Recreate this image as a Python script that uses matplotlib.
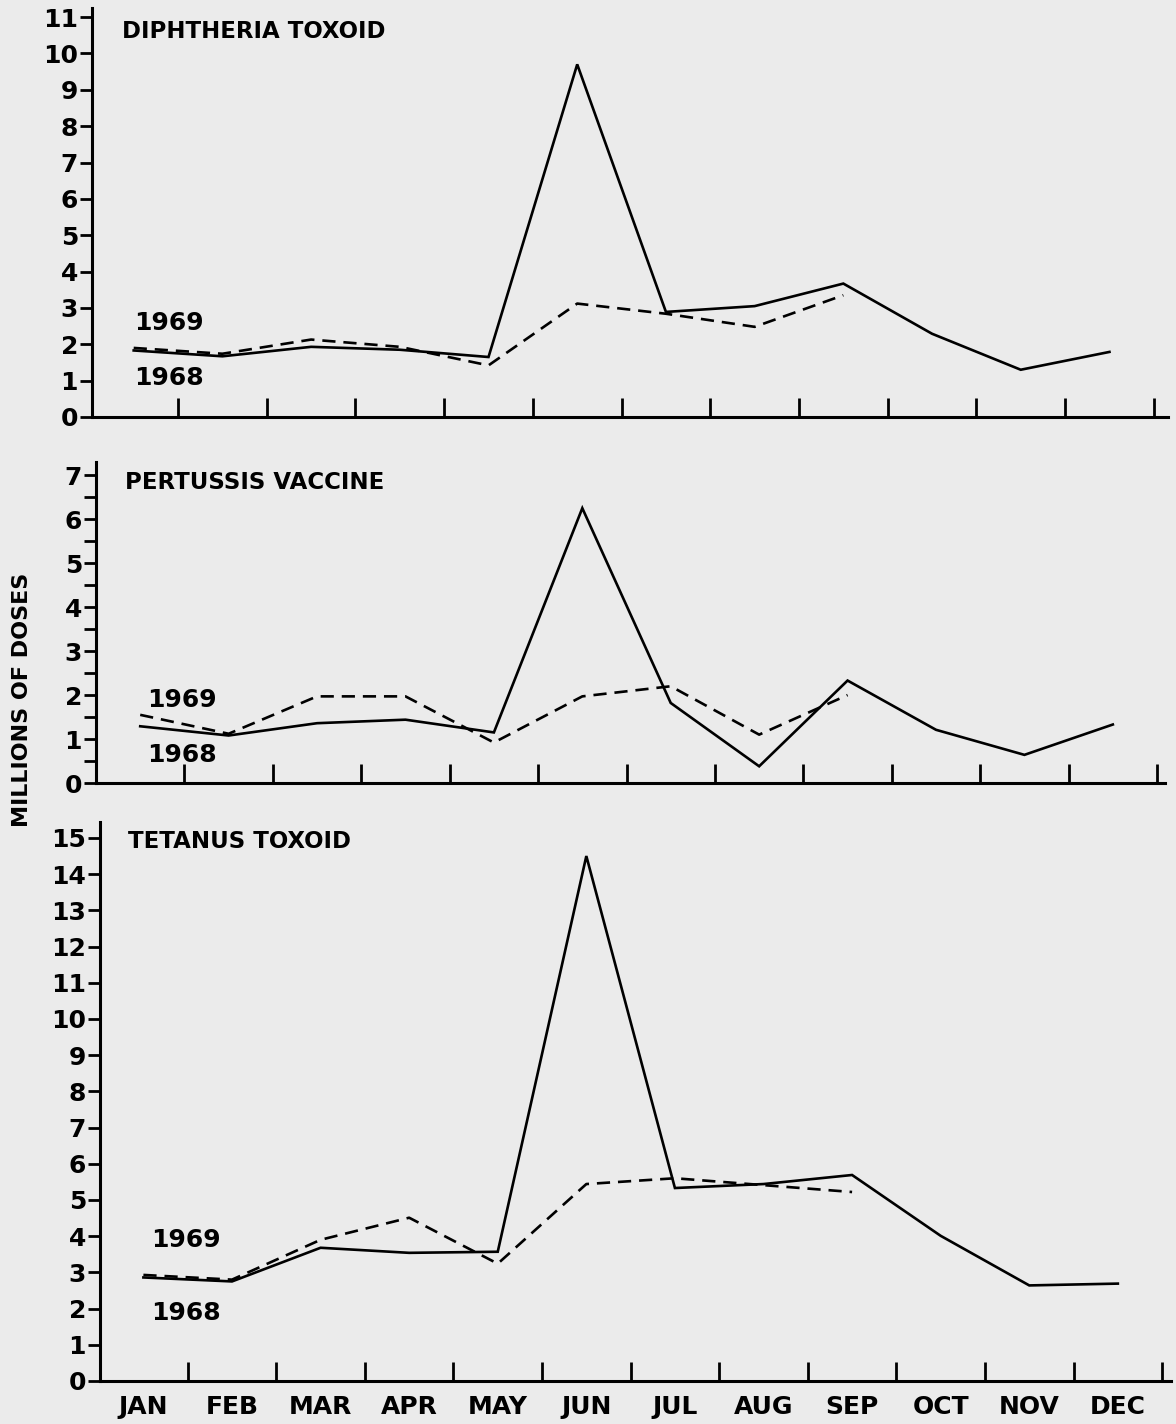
import numpy as np
import matplotlib.pyplot as plt

months = ["JAN", "FEB", "MAR", "APR", "MAY", "JUN", "JUL", "AUG", "SEP", "OCT", "NOV", "DEC"]

# millions of doses
diph_1968 = [1.83, 1.67, 1.93, 1.85, 1.65, 9.7, 2.89, 3.05, 3.67, 2.29, 1.30, 1.79]
diph_1969 = [1.9, 1.74, 2.13, 1.93, 1.42, 3.12, 2.84, 2.48, 3.35]
pert_1968 = [1.29, 1.08, 1.36, 1.44, 1.15, 6.25, 1.82, 0.38, 2.33, 1.21, 0.64, 1.33]
pert_1969 = [1.55, 1.12, 1.97, 1.97, 0.92, 1.97, 2.2, 1.1, 2.0]
tet_1968 = [2.86, 2.75, 3.68, 3.54, 3.57, 14.5, 5.33, 5.44, 5.69, 4.01, 2.64, 2.69]
tet_1969 = [2.93, 2.80, 3.90, 4.51, 3.24, 5.44, 5.6, 5.41, 5.22]

panels = [
    ("DIPHTHERIA TOXOID", diph_1968, diph_1969, 11, 1.0),
    ("PERTUSSIS VACCINE", pert_1968, pert_1969, 7, 0.5),
    ("TETANUS TOXOID", tet_1968, tet_1969, 15, 1.0),
]

W, H = 1176, 1424
bg = "#ebebeb"
plt.rcParams["font.family"] = "DejaVu Sans"
plt.rcParams["font.weight"] = "bold"

fig = plt.figure(figsize=(W / 100, H / 100), dpi=100, facecolor=bg)

# axes boxes in pixels: left, width, axis line y, top, xlim, ymax
boxes = [
    (92, 1076, 417, 8, (-0.47, 11.66), 11.25),
    (96, 1069, 783, 462, (-0.5, 11.59), 7.3),
    (100, 1071, 1381, 822, (-0.49, 11.6), 15.44),
]
title_pos = [(-0.13, 10.6), (-0.17, 6.84), (-0.17, 14.9)]
year_pos = [(0.0, 2.58, 1.07), (0.08, 1.89, 0.64), (0.09, 3.9, 1.88)]

x = np.arange(12)
for i, (title, s68, s69, ytop, ystep) in enumerate(panels):
    left, width, ybase, ytp, xl, ymax = boxes[i]
    ax = fig.add_axes([left / W, 1 - ybase / H, width / W, (ybase - ytp) / H])
    ax.set_facecolor(bg)
    ax.plot(x, s68, color="black", lw=1.9, solid_joinstyle="miter")
    ax.plot(x[:len(s69)], s69, color="black", lw=1.9, dashes=(5, 3))
    ax.set_xlim(*xl)
    ax.set_ylim(0, ymax)

    for sp in ["top", "right"]:
        ax.spines[sp].set_visible(False)
    for sp in ["left", "bottom"]:
        ax.spines[sp].set_linewidth(2.2)

    ax.set_yticks(np.arange(0, ytop + 0.01, 1))
    ax.set_yticks(np.arange(0, ytop + 0.01, ystep), minor=True)
    ax.tick_params(axis="y", which="both", direction="out", length=9, width=2,
                   labelsize=18, pad=1)
    ax.set_yticklabels([str(v) for v in range(ytop + 1)], fontweight="bold")

    ax.set_xticks(np.arange(0.5, 11.6, 1))
    ax.tick_params(axis="x", which="major", direction="in", length=14, width=2)
    if i == 2:
        ax.set_xticks(x, minor=True)
        ax.set_xticklabels(months, minor=True, fontsize=18, fontweight="bold")
        ax.tick_params(axis="x", which="minor", length=0, pad=10)
    ax.set_xticklabels([])

    tx, ty = title_pos[i]
    ax.text(tx, ty, title, fontsize=16.5, fontweight="bold", va="center", ha="left")
    yx, y69, y68 = year_pos[i]
    ax.text(yx, y69, "1969", fontsize=18, fontweight="bold", va="center", ha="left")
    ax.text(yx, y68, "1968", fontsize=18, fontweight="bold", va="center", ha="left")

fig.text(22 / W, 1 - 700 / H, "MILLIONS OF DOSES", rotation=90, fontsize=16,
         fontweight="bold", va="center", ha="center")

fig.savefig("out.png", dpi=100, facecolor=bg)
